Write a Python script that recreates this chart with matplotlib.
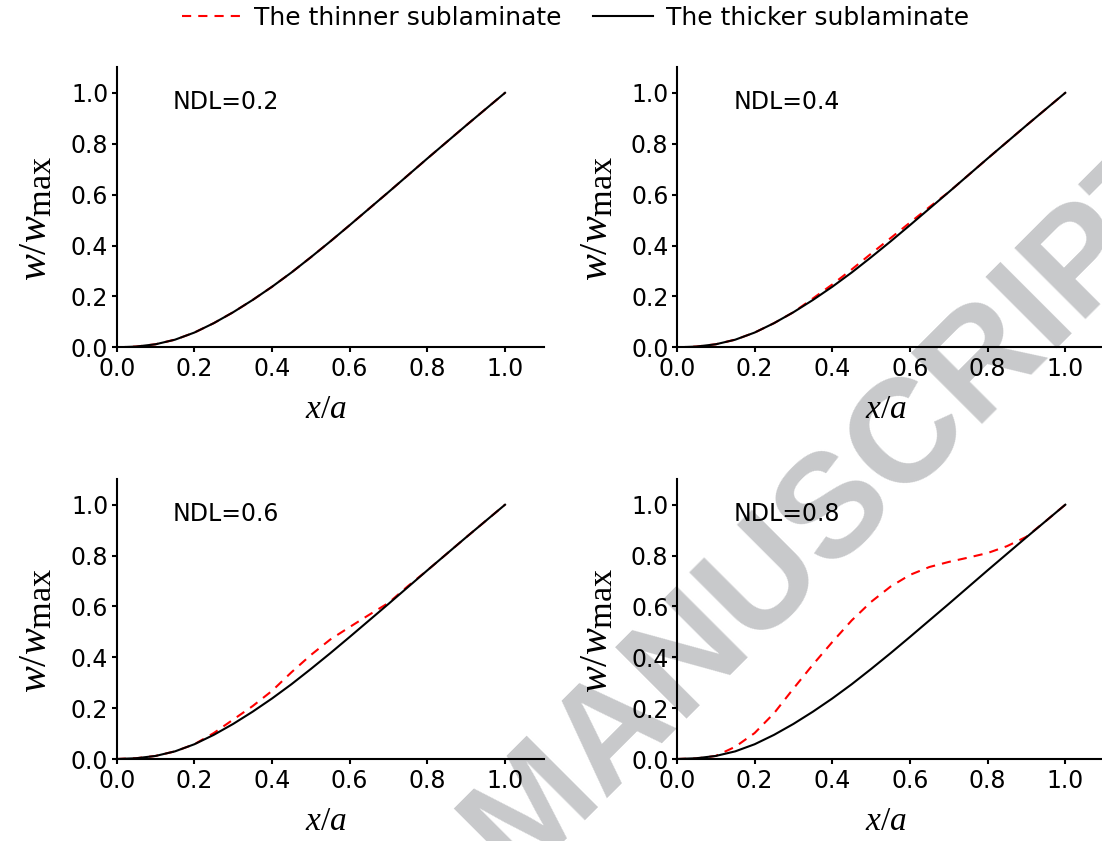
#!/usr/bin/env python3.12
"""Deflection profiles w/w_max of the two sublaminates for four NDL values."""

import matplotlib
matplotlib.use("Agg")
import matplotlib.pyplot as plt
from matplotlib import _mathtext
from matplotlib.lines import Line2D

# subscript nearly full size, as in the original label
_mathtext.SHRINK_FACTOR = 0.85

X_A = [0.0, 0.05, 0.10, 0.15, 0.20, 0.25, 0.30, 0.35, 0.40, 0.45, 0.50,
       0.55, 0.60, 0.65, 0.70, 0.75, 0.80, 0.85, 0.90, 0.95, 1.0]

THICKER = [0.0, 0.003, 0.012, 0.030, 0.058, 0.095, 0.138, 0.186, 0.238, 0.294, 0.354,
           0.416, 0.480, 0.545, 0.610, 0.676, 0.742, 0.807, 0.872, 0.936, 1.0]

THINNER_02 = [0.0, 0.003, 0.012, 0.030, 0.058, 0.095, 0.138, 0.186, 0.238, 0.294, 0.354,
              0.416, 0.480, 0.545, 0.610, 0.676, 0.742, 0.807, 0.872, 0.936, 1.0]
THINNER_04 = [0.0, 0.003, 0.012, 0.030, 0.058, 0.095, 0.138, 0.192, 0.247, 0.306, 0.368,
              0.429, 0.490, 0.551, 0.610, 0.676, 0.742, 0.807, 0.872, 0.936, 1.0]
THINNER_06 = [0.0, 0.003, 0.012, 0.030, 0.058, 0.102, 0.155, 0.208, 0.268, 0.341, 0.409,
              0.470, 0.519, 0.567, 0.614, 0.680, 0.742, 0.807, 0.872, 0.936, 1.0]
THINNER_08 = [0.0, 0.002, 0.012, 0.048, 0.102, 0.180, 0.277, 0.371, 0.460, 0.545, 0.618,
              0.678, 0.724, 0.755, 0.775, 0.792, 0.810, 0.837, 0.874, 0.936, 1.0]

NDL_LABELS = ["NDL=0.2", "NDL=0.4", "NDL=0.6", "NDL=0.8"]
TICKS = [0.0, 0.2, 0.4, 0.6, 0.8, 1.0]
LEGEND_LABELS = ["The thinner sublaminate", "The thicker sublaminate"]


def main() -> None:
    plt.rcParams["font.family"] = ["DejaVu Sans"]
    plt.rcParams["mathtext.fontset"] = "custom"
    plt.rcParams["mathtext.rm"] = "Liberation Serif"
    plt.rcParams["mathtext.it"] = "Liberation Serif:italic"

    red = "#ff0000"
    gray = "#c8c9cb"
    lw = 1.5
    dash = (4.4, 3.4)

    fig = plt.figure(figsize=(11.02, 8.41), dpi=100, facecolor="white")

    # watermark sits behind everything (cut by the page edge, as in the source)
    fig.text(0.7586, 0.3983, "MANUSCRIPT", color=gray, fontsize=106,
             fontweight="bold", family="Liberation Sans", rotation=45,
             ha="center", va="center", rotation_mode="anchor", zorder=-10)

    rects = [
        [0.1059, 0.5870, 0.3876, 0.3329],
        [0.6143, 0.5870, 0.3876, 0.3329],
        [0.1059, 0.0975, 0.3876, 0.3326],
        [0.6143, 0.0975, 0.3876, 0.3326],
    ]
    thinner = [THINNER_02, THINNER_04, THINNER_06, THINNER_08]

    for rect, red_y, ndl in zip(rects, thinner, NDL_LABELS):
        ax = fig.add_axes(rect)
        ax.set_facecolor("none")
        ax.plot(X_A, red_y, color=red, lw=lw, linestyle=(0, dash), zorder=2)
        ax.plot(X_A, THICKER, color="black", lw=lw, zorder=3)

        ax.set_xlim(0, 1.1)
        ax.set_ylim(0, 1.1)
        ax.set_xticks(TICKS)
        ax.set_yticks(TICKS)
        ax.set_xticklabels([f"{t:.1f}" for t in TICKS])
        ax.set_yticklabels([f"{t:.1f}" for t in TICKS])
        for side in ("top", "right"):
            ax.spines[side].set_visible(False)
        for side in ("left", "bottom"):
            ax.spines[side].set_linewidth(1.5)
            ax.spines[side].set_zorder(4)
        ax.tick_params(direction="out", length=3.6, width=1.5, labelsize=17,
                       colors="black")
        ax.tick_params(axis="x", pad=3.5)
        ax.tick_params(axis="y", pad=2.5)

        ax.set_xlabel(r"$x/a$", fontsize=24)
        ax.xaxis.set_label_coords(0.49, -0.22)
        ax.xaxis.label.set_va("center")
        ax.set_ylabel(r"$w/w_{\mathrm{max}}$", fontsize=29)
        ax.yaxis.set_label_coords(-0.19, 0.46)
        ax.yaxis.label.set_va("center")

        ax.text(0.145, 0.965, ndl, fontsize=17, ha="left", va="center")

    handles = [
        Line2D([], [], color=red, lw=lw, linestyle=(0, dash)),
        Line2D([], [], color="black", lw=lw),
    ]
    fig.legend(handles, LEGEND_LABELS, loc="center", ncol=2, frameon=False,
               bbox_to_anchor=(0.522, 0.9786), fontsize=18, handlelength=2.4,
               handletextpad=0.5, columnspacing=1.25)

    fig.savefig("out.png", dpi=100, facecolor="white")


if __name__ == "__main__":
    main()
